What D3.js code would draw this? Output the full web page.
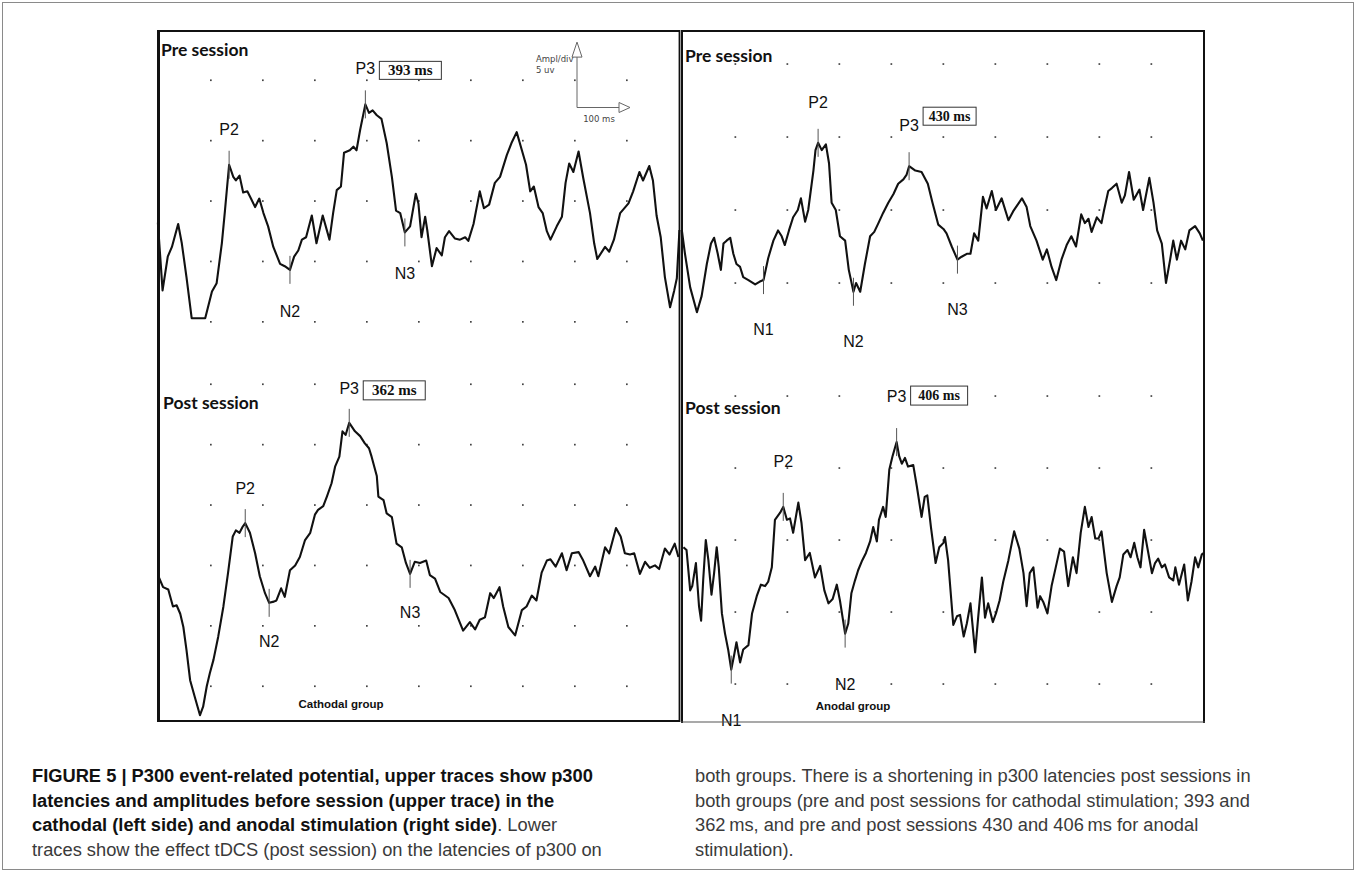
<!DOCTYPE html>
<html>
<head>
<meta charset="utf-8">
<script src="https://cdn.jsdelivr.net/npm/d3@7"></script>
<style>
  html, body { margin: 0; padding: 0; background: #fff; }
  svg { display: block; }
</style>
</head>
<body>
<svg id="fig" width="1356" height="872"></svg>
<script>
// ---------------------------------------------------------------
// Averaged ERP traces: [latency (ms), amplitude (µV)]
// ---------------------------------------------------------------
const cathodalPre = [
  [-6,-1.8],[3,-7.4],[13,-4.6],[21,-3.8],[33,-1.9],[40,-3.5],[49,-6.3],[59,-9.7],[85,-9.7],[98,-7.5],
  [107,-6.8],[117,-3.5],[123,-0.8],[131,3.0],[139,2.0],[144,1.7],[151,2.1],[158,0.7],[166,0.8],[173,0.2],
  [181,-0.5],[189,0.2],[197,-1.0],[206,-2.1],[216,-3.8],[229,-5.2],[238,-5.4],[248,-5.7],[256,-4.6],[264,-4.1],
  [271,-3.2],[279,-3.0],[290,-1.2],[299,-3.5],[311,-1.2],[324,-3.2],[331,-1.0],[338,0.9],[346,1.2],[352,4.0],
  [363,4.2],[370,4.5],[376,4.2],[383,5.9],[393,8.0],[400,7.3],[407,7.5],[415,7.1],[424,6.8],[434,4.8],
  [444,2.0],[452,-0.8],[460,-1.0],[469,-2.6],[479,-2.1],[490,0.6],[495,-0.2],[501,-3.0],[508,-1.3],[512,-2.4],
  [521,-5.4],[530,-3.9],[540,-4.5],[546,-3.0],[554,-2.5],[565,-3.1],[575,-3.2],[585,-3.0],[591,-3.3],[601,-1.9],
  [613,0.8],[621,-0.6],[631,-0.3],[642,1.5],[652,2.0],[665,3.8],[674,4.8],[684,5.7],[694,4.2],[702,3.0],
  [710,0.8],[717,1.2],[726,-0.5],[734,-1.0],[742,-2.5],[749,-3.2],[761,-2.1],[771,-1.3],[778,1.5],[785,3.1],
  [793,2.4],[803,4.1],[812,1.9],[825,-1.0],[833,-3.5],[839,-4.8],[854,-3.8],[862,-4.2],[871,-3.2],[883,-1.0],
  [899,-0.2],[908,0.8],[920,2.4],[927,1.7],[939,2.9],[946,1.7],[953,-1.2],[961,-3.0],[969,-6.3],[979,-8.8],
  [987,-7.4],[992,-6.4],[997,-2.4]
];

const cathodalPost = [
  [-5,-5.9],[4,-6.8],[14,-7.0],[23,-8.4],[30,-8.3],[37,-9.0],[43,-10.1],[49,-12.0],[56,-14.5],[65,-15.9],
  [75,-17.4],[81,-16.7],[88,-15.0],[94,-13.9],[101,-12.8],[110,-10.9],[120,-8.4],[129,-5.6],[138,-2.6],[144,-2.1],
  [151,-2.3],[157,-1.8],[162,-1.5],[171,-2.3],[181,-4.0],[190,-5.9],[200,-7.3],[208,-8.1],[217,-8.0],[222,-7.9],
  [231,-6.9],[238,-7.6],[248,-5.4],[258,-5.0],[267,-4.3],[277,-2.9],[287,-2.3],[296,-0.8],[302,-0.4],[312,-0.1],
  [319,0.7],[328,1.8],[335,3.2],[343,4.0],[349,6.1],[355,5.8],[362,6.8],[373,6.1],[383,5.7],[392,5.1],
  [400,4.7],[405,4.0],[415,2.4],[418,0.7],[428,0.4],[434,-0.7],[444,-1.0],[453,-3.2],[463,-3.5],[471,-4.8],
  [479,-5.7],[488,-4.7],[498,-4.8],[510,-4.6],[517,-5.8],[527,-6.1],[537,-7.2],[553,-7.7],[565,-8.7],[581,-10.4],
  [594,-9.7],[604,-10.3],[613,-9.5],[623,-9.3],[633,-7.3],[640,-7.7],[651,-6.8],[658,-8.4],[668,-10.1],[681,-10.8],
  [694,-8.7],[703,-8.4],[713,-7.5],[722,-7.9],[732,-5.6],[742,-4.6],[749,-4.5],[759,-5.1],[771,-4.0],[780,-5.4],
  [790,-4.0],[803,-3.9],[812,-4.6],[825,-5.9],[835,-5.1],[841,-5.9],[854,-3.5],[862,-4.0],[875,-1.9],[884,-2.6],
  [892,-4.0],[902,-4.1],[910,-4.0],[921,-5.7],[931,-4.7],[940,-5.2],[950,-5.0],[958,-5.3],[969,-3.6],[978,-4.1],
  [988,-3.2],[995,-4.3]
];

const anodalPre = [
  [-7,-1.4],[-1,-3.0],[9,-5.3],[22,-7.0],[31,-5.9],[41,-3.7],[49,-2.3],[55,-1.9],[62,-3.0],[68,-4.1],
  [73,-2.3],[79,-2.1],[86,-1.9],[92,-3.0],[98,-3.7],[105,-3.9],[111,-4.6],[121,-4.8],[134,-5.1],[143,-4.9],
  [150,-4.8],[159,-3.3],[169,-2.1],[178,-1.4],[185,-1.8],[191,-2.4],[199,-1.4],[207,-0.5],[216,0.0],[222,0.8],
  [230,-0.8],[236,0.0],[246,2.7],[250,4.1],[255,4.6],[262,4.1],[270,4.5],[276,3.2],[281,0.5],[289,0.0],
  [297,-1.8],[307,-2.1],[314,-4.1],[323,-5.6],[328,-5.0],[336,-5.6],[345,-3.7],[355,-1.8],[363,-1.5],[371,-0.9],
  [380,-0.2],[390,0.5],[400,1.1],[409,1.8],[419,2.1],[425,2.4],[430,3.0],[442,2.7],[454,2.6],[466,1.8],
  [475,0.5],[486,-1.0],[496,-1.3],[502,-1.6],[512,-2.5],[523,-3.4],[531,-3.2],[541,-3.0],[548,-3.0],[555,-1.6],
  [563,-2.1],[572,0.9],[579,0.1],[589,1.3],[597,0.0],[608,0.8],[621,-0.7],[630,-0.1],[647,0.8],[656,0.2],
  [663,-1.1],[675,-2.1],[687,-3.4],[695,-2.7],[704,-3.9],[713,-4.8],[723,-3.4],[733,-2.4],[742,-1.8],[751,-2.5],
  [761,-0.3],[768,-0.9],[775,-0.6],[781,-1.5],[791,-0.5],[800,-0.9],[805,0.0],[813,1.3],[820,1.5],[829,1.8],
  [839,0.5],[845,1.0],[853,2.6],[862,0.7],[873,1.4],[880,0.0],[892,2.2],[900,0.5],[907,-1.4],[916,-2.3],
  [924,-5.0],[932,-3.4],[938,-2.1],[945,-3.4],[953,-2.1],[961,-2.7],[969,-1.4],[980,-1.1],[989,-1.6],[995,-2.1]
];

const anodalPost = [
  [-4,-0.5],[2,-0.7],[9,-3.5],[13,-3.2],[20,-1.6],[26,-4.6],[30,-5.6],[34,-2.8],[39,0.0],[44,-1.4],
  [50,-3.8],[55,-2.3],[60,-0.5],[64,-1.9],[70,-5.1],[76,-6.5],[82,-7.6],[88,-9.0],[94,-7.9],[98,-7.1],
  [105,-8.5],[111,-7.6],[121,-7.3],[128,-5.1],[137,-3.9],[145,-3.1],[153,-3.2],[159,-2.9],[166,-1.9],[172,1.4],
  [182,1.9],[188,2.3],[195,1.4],[201,1.5],[207,0.5],[217,2.6],[223,1.2],[230,-1.4],[239,-0.9],[249,-2.6],
  [259,-1.8],[267,-3.5],[275,-4.4],[283,-4.1],[291,-3.1],[297,-4.2],[307,-6.5],[313,-5.8],[319,-3.7],[326,-2.8],
  [332,-2.1],[340,-1.4],[347,-0.9],[355,-0.1],[361,0.9],[368,-0.1],[372,1.4],[380,2.3],[385,1.6],[392,4.9],
  [398,5.8],[406,6.8],[411,5.8],[416,5.3],[422,5.7],[428,5.1],[438,5.2],[445,3.7],[454,1.6],[460,3.0],
  [465,3.1],[472,0.9],[481,-1.6],[488,-0.5],[496,-0.2],[499,0.2],[505,-1.4],[515,-5.9],[522,-5.3],[528,-5.2],
  [535,-6.7],[541,-5.8],[548,-4.4],[557,-7.8],[563,-5.3],[570,-2.6],[576,-5.4],[582,-4.4],[591,-5.7],[597,-5.1],
  [604,-4.2],[611,-2.9],[621,-1.4],[632,0.6],[642,-0.6],[650,-2.3],[656,-4.6],[662,-2.3],[669,-1.9],[677,-4.7],
  [682,-3.9],[688,-4.3],[696,-5.1],[704,-3.2],[712,-1.9],[720,-0.6],[728,-0.8],[736,-3.2],[745,-1.2],[752,-2.3],
  [760,0.5],[768,2.3],[775,0.9],[781,1.6],[788,0.1],[794,0.1],[800,0.6],[810,-2.3],[820,-4.3],[829,-3.2],
  [835,-2.6],[842,-1.0],[850,-0.7],[856,-1.2],[863,-0.2],[869,-1.2],[875,-1.9],[882,0.7],[888,-0.5],[897,-2.3],
  [903,-1.6],[909,-1.3],[916,-1.9],[922,-1.7],[930,-2.6],[938,-2.8],[942,-1.9],[949,-3.1],[959,-1.7],[966,-4.2],
  [973,-2.9],[980,-1.2],[986,-1.9],[993,-1.0],[997,-0.9]
];

// ERP components marked on each trace (names + latencies in ms)
const cathodalPreComponents  = ["P2", "N2", "P3", "N3"];
const cathodalPreLatencies   = [131, 248, 393, 469];
const cathodalPostComponents = ["P2", "N2", "P3", "N3"];
const cathodalPostLatencies  = [162, 208, 362, 479];
const anodalPreComponents    = ["N1", "P2", "N2", "P3", "N3"];
const anodalPreLatencies     = [150, 255, 323, 430, 523];
const anodalPostComponents   = ["N1", "P2", "N2", "P3"];
const anodalPostLatencies    = [88, 188, 307, 406];

// Grid divisions: 100 ms horizontally, 5 µV vertically
const timeDivisions = [100, 200, 300, 400, 500, 600, 700, 800, 900];

// ---------------------------------------------------------------
const svg = d3.select("#fig");

// Outer figure border
svg.append("rect")
  .attr("x", 2.5).attr("y", 2.5).attr("width", 1351).attr("height", 867)
  .attr("fill", "none").attr("stroke", "#8a8a8a").attr("stroke-width", 1);

// Horizontal scales (one per stimulation group)
const xCathodal = d3.scaleLinear().domain([0, 1000]).range([161, 681]);
const xAnodal   = d3.scaleLinear().domain([0, 1000]).range([685.5, 1205.5]);

// Vertical scales (one per recording)
const yCathodalPre  = d3.scaleLinear().domain([-10, 10]).range([321.8, 80.2]);
const yCathodalPost = d3.scaleLinear().domain([-10, 10]).range([625.8, 384.2]);
const yAnodalPre    = d3.scaleLinear().domain([-10, 10]).range([356, 64]);
const yAnodalPost   = d3.scaleLinear().domain([-10, 10]).range([684, 396]);

const panels = [
  { title: "Pre session", trace: cathodalPre, names: cathodalPreComponents, lat: cathodalPreLatencies,
    x: xCathodal, y: yCathodalPre, rows: [10, 5, 0, -5, -10],
    titleX: 161, titleY: 56, pDy: -30, nDy: 47, boxDy: -13, boxW: 62, boxH: 18, boxFont: 15 },
  { title: "Post session", trace: cathodalPost, names: cathodalPostComponents, lat: cathodalPostLatencies,
    x: xCathodal, y: yCathodalPost, rows: [10, 5, 0, -5, -10, -15],
    titleX: 163, titleY: 409, pDy: -29, nDy: 44, boxDy: -13, boxW: 62, boxH: 19, boxFont: 15 },
  { title: "Pre session", trace: anodalPre, names: anodalPreComponents, lat: anodalPreLatencies,
    x: xAnodal, y: yAnodalPre, rows: [10, 5, 0, -5],
    titleX: 685, titleY: 62, pDy: -35, nDy: 55, boxDy: -24, boxW: 53, boxH: 18, boxFont: 14 },
  { title: "Post session", trace: anodalPost, names: anodalPostComponents, lat: anodalPostLatencies,
    x: xAnodal, y: yAnodalPost, rows: [10, 5, 0, -5, -10],
    titleX: 685, titleY: 414, pDy: -40, nDy: 56, boxDy: -16, boxW: 57, boxH: 19, boxFont: 14 }
];

panels.forEach(p => {
  const g = svg.append("g");

  // dotted division grid
  p.rows.forEach(v => {
    timeDivisions.forEach(t => {
      g.append("rect")
        .attr("x", p.x(t) - 3).attr("y", p.y(v) - 0.8)
        .attr("width", 1.7).attr("height", 1.7)
        .attr("fill", "#444");
    });
  });

  // waveform
  const path = d3.line()
    .x(d => p.x(d[0]))
    .y(d => p.y(d[1]))
    .curve(d3.curveLinear);
  g.append("path")
    .datum(p.trace)
    .attr("d", path)
    .attr("fill", "none")
    .attr("stroke", "#111")
    .attr("stroke-width", 2.1)
    .attr("stroke-linejoin", "round");

  // component markers and labels
  p.names.forEach((name, i) => {
    const t = p.lat[i];
    const pt = p.trace.find(d => d[0] === t);
    const cx = p.x(t), cy = p.y(pt[1]);
    g.append("line")
      .attr("x1", cx).attr("x2", cx)
      .attr("y1", cy - 14).attr("y2", cy + 14)
      .attr("stroke", "#555").attr("stroke-width", 1);

    const positive = name[0] === "P";
    const by = cy + (positive ? p.pDy : p.nDy);
    g.append("text")
      .attr("x", cx).attr("y", by)
      .attr("text-anchor", "middle")
      .attr("font-family", "'Liberation Sans', Arial, sans-serif")
      .attr("font-size", 16)
      .attr("fill", "#111")
      .text(name);

    if (name === "P3") {
      const bx = cx + 14;
      g.append("rect")
        .attr("x", bx).attr("y", by + p.boxDy)
        .attr("width", p.boxW).attr("height", p.boxH)
        .attr("fill", "#fff").attr("stroke", "#333").attr("stroke-width", 1);
      g.append("text")
        .attr("x", bx + p.boxW / 2).attr("y", by + p.boxDy + p.boxH / 2 + p.boxFont * 0.34)
        .attr("text-anchor", "middle")
        .attr("font-family", "'Liberation Serif', 'Times New Roman', serif")
        .attr("font-weight", "bold")
        .attr("font-size", p.boxFont)
        .attr("fill", "#111")
        .text(`${t} ms`);
    }
  });

  // session title
  g.append("text")
    .attr("x", p.titleX).attr("y", p.titleY)
    .attr("font-family", "Lato, 'Open Sans', sans-serif")
    .attr("font-weight", "bold")
    .attr("font-size", 17.5)
    .attr("fill", "#111")
    .text(p.title);
});

// Group captions inside the panels
[["Cathodal group", 341, 708], ["Anodal group", 853, 710]].forEach(([txt, x, y]) => {
  svg.append("text")
    .attr("x", x).attr("y", y).attr("text-anchor", "middle")
    .attr("font-family", "'Liberation Sans', Arial, sans-serif")
    .attr("font-weight", "bold").attr("font-size", 11.5)
    .attr("fill", "#111").text(txt);
});

// Calibration arrows: 5 µV per division, 100 ms per division
(function calibration() {
  const ox = 577, oy = 107.5;
  const h = xCathodal(100) - xCathodal(0);
  const v = yCathodalPre(0) - yCathodalPre(5);
  const g = svg.append("g").attr("stroke", "#666").attr("fill", "none").attr("stroke-width", 1);
  g.append("line").attr("x1", ox).attr("y1", oy).attr("x2", ox).attr("y2", oy - v + 10);
  g.append("line").attr("x1", ox).attr("y1", oy).attr("x2", ox + h - 10).attr("y2", oy);
  g.append("path").attr("fill", "#fff")
    .attr("d", `M${ox},${oy - v - 5}L${ox - 5},${oy - v + 10}L${ox + 5},${oy - v + 10}Z`);
  g.append("path").attr("fill", "#fff")
    .attr("d", `M${ox + h + 1},${oy}L${ox + h - 10},${oy - 5}L${ox + h - 10},${oy + 5}Z`);
  const tg = svg.append("g")
    .attr("font-family", "'DejaVu Sans', sans-serif").attr("font-size", 8.5).attr("fill", "#444");
  tg.append("text").attr("x", ox - 41).attr("y", 62).text("Ampl/div");
  tg.append("text").attr("x", ox - 41).attr("y", 73).text("5 uv");
  tg.append("text").attr("x", ox + 22).attr("y", 121.5).attr("text-anchor", "middle").text("100 ms");
})();

// Panel frames
const frame = svg.append("g").attr("fill", "none");
function seg(x1, y1, x2, y2, w, c) {
  frame.append("line").attr("x1", x1).attr("y1", y1).attr("x2", x2).attr("y2", y2)
    .attr("stroke", c || "#111").attr("stroke-width", w);
}
// cathodal frame
seg(158.5, 30, 158.5, 722, 3);
seg(157, 31, 680, 31, 2);
seg(679.5, 30, 679.5, 722, 1.8);
seg(157, 721, 680, 721, 2.2);
// anodal frame
seg(682, 30, 682, 723, 2);
seg(681, 31, 1205, 31, 2);
seg(1204, 30, 1204, 723, 2);
seg(681, 722, 1205, 722, 1.2, "#555");

// Figure caption (two columns)
const lat = [cathodalPreLatencies[2], cathodalPostLatencies[2], anodalPreLatencies[3], anodalPostLatencies[3]];
const capFont = "'Liberation Sans', Arial, Helvetica, sans-serif";
const capSize = 18.3;
const capLines = [782, 806.5, 831, 855.5];

const leftCol = [
  [["FIGURE 5 | P300 event-related potential, upper traces show p300", true]],
  [["latencies and amplitudes before session (upper trace) in the", true]],
  [["cathodal (left side) and anodal stimulation (right side)", true], [". Lower", false]],
  [["traces show the effect tDCS (post session) on the latencies of p300 on", false]]
];
const rightCol = [
  [["both groups. There is a shortening in p300 latencies post sessions in", false]],
  [[`both groups (pre and post sessions for cathodal stimulation; ${lat[0]} and`, false]],
  [[`${lat[1]}\u2009ms, and pre and post sessions ${lat[2]} and ${lat[3]}\u2009ms for anodal`, false]],
  [["stimulation).", false]]
];
function writeColumn(lines, x) {
  lines.forEach((parts, i) => {
    const t = svg.append("text")
      .attr("x", x).attr("y", capLines[i])
      .attr("font-family", capFont).attr("font-size", capSize);
    parts.forEach(([s, bold]) => {
      t.append("tspan")
        .attr("font-weight", bold ? "bold" : "normal")
        .attr("fill", bold ? "#111" : "#3a3a3a")
        .text(s);
    });
  });
}
writeColumn(leftCol, 32);
writeColumn(rightCol, 695);
</script>
</body>
</html>
